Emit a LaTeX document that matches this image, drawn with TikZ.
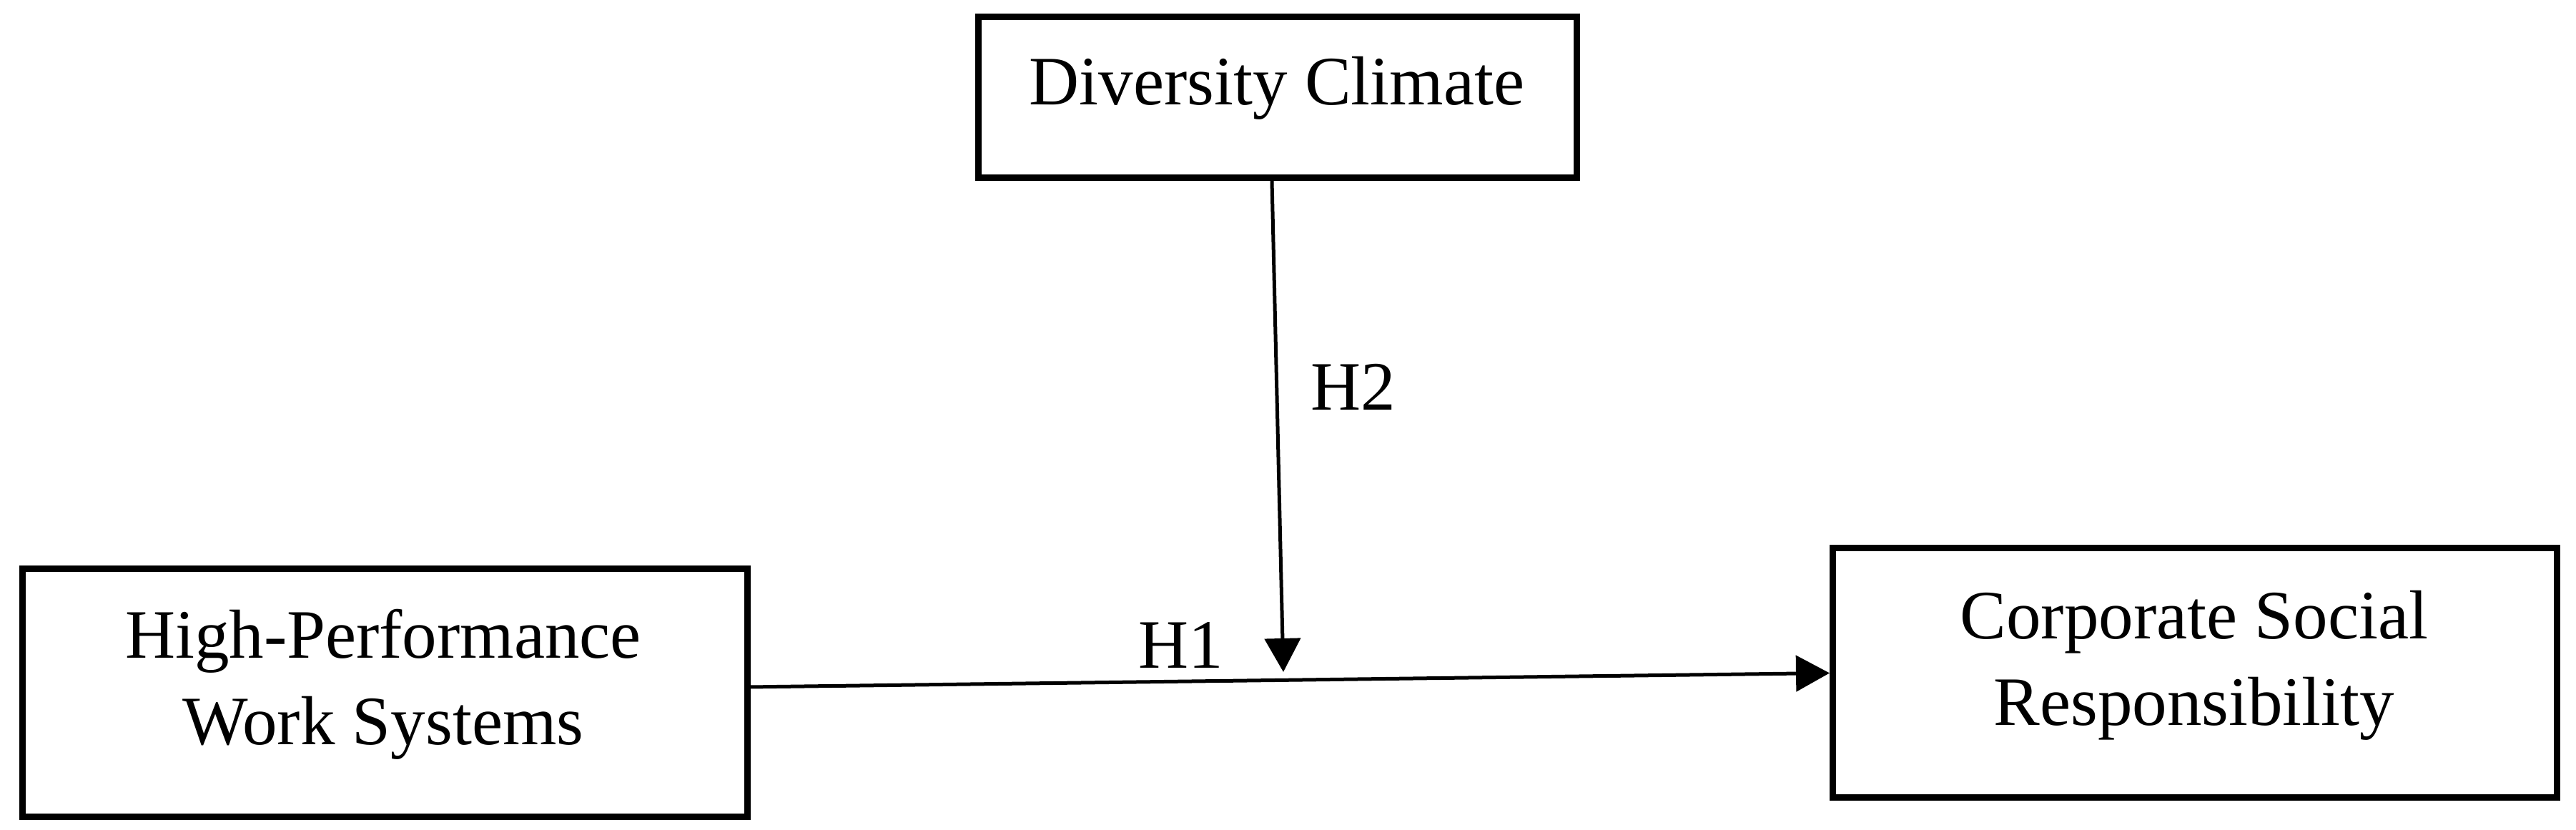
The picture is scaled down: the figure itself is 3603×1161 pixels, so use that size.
\documentclass[tikz,border=0pt]{standalone}
\usepackage{fontspec}
\setmainfont{Liberation Serif}
\usetikzlibrary{arrows.meta}
\begin{document}
\begin{tikzpicture}[x=0.1pt,y=-0.1pt,
  box/.style={draw=black,line width=0.9pt,fill=white,inner sep=0pt},
  lbl/.style={font=\fontsize{9.7pt}{12.1pt}\selectfont,align=center,inner sep=0pt},
  link/.style={draw=black,line width=0.5pt,-{Triangle[length=4.7pt,width=5pt]}}]
\useasboundingbox[fill=white] (0,0) rectangle (3603,1161);
% boxes
\node[box,minimum width=83.7pt,minimum height=22.5pt] (dc) at (1787,136) {};
\node[box,minimum width=101.45pt,minimum height=34.75pt] (hpws) at (538.25,969.25) {};
\node[box,minimum width=101.35pt,minimum height=34.9pt] (csr) at (3070.25,941.5) {};
% box texts
\node[lbl,anchor=base] (dctxt) at (1786,147) {Diversity Climate};
\node[lbl] (hpwstxt) at (536,957) {High-Performance\\Work Systems};
\node[lbl] (csrtxt) at (3069,931) {Corporate Social\\Responsibility};
% connectors
\coordinate (tip) at (1795,940);
\draw[link] ([yshift=0.825pt]hpws.east) -- (csr.west);
\draw[link] ([xshift=-0.8pt]dc.south) -- (tip);
% labels
\node[lbl,anchor=base] (h1) at (1652,935) {H1};
\node[lbl,anchor=base] (h2) at (1893,574) {H2};
\end{tikzpicture}
\end{document}
